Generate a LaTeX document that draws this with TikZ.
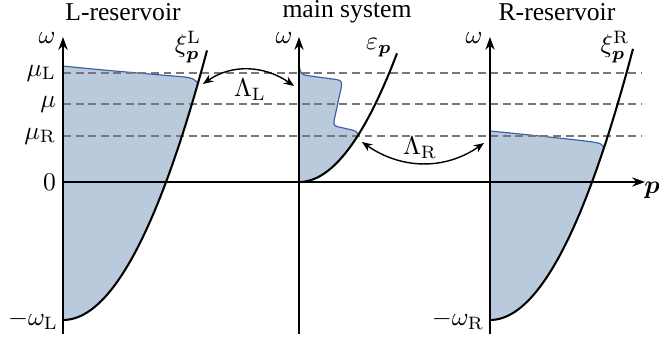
\documentclass[tikz,border=0pt]{standalone}
\usepackage{amsmath,amssymb,bm}
\usepackage[no-math]{fontspec}
\setmainfont{Liberation Serif}
\usepackage{tikz}
\usetikzlibrary{arrows.meta,positioning,calc}
\definecolor{occBlue}{HTML}{B9CADC}
\definecolor{edgeBlue}{HTML}{3A5FA8}
\definecolor{levelGray}{HTML}{777777}
\tikzset{
  axis/.style={-{Stealth[length=5pt,width=3.6pt]}, line width=0.5pt},
  band/.style={line width=0.8pt},
  occ/.style={fill=occBlue},
  edge/.style={draw=edgeBlue, line width=0.45pt},
  level/.style={draw=levelGray, line width=0.45pt, dash pattern=on 3.1pt off 1.8pt},
  coupling/.style={{Stealth[length=4pt,width=3.2pt]}-{Stealth[length=4pt,width=3.2pt]}, line width=0.55pt},
  lbl/.style={inner sep=1pt}
}

\begin{document}
\begin{tikzpicture}[x=0.39pt,y=-0.39pt]
\useasboundingbox (0,0) rectangle (659,342);

% occupied states
\fill[occ] (63,320) -- plot[domain=0:135,samples=40] ({63+\x},{320-0.0130*\x*\x})
  .. controls (194,79) and (192,78) .. (185,77) .. controls (150,74) and (100,70) .. (63,66) -- cycle;
\fill[occ] (299,182) -- plot[domain=0:59.5,samples=30] ({299+\x},{182-0.0134*\x*\x})
  .. controls (357,131.5) and (355,130.5) .. (352,130) -- (339,127)
  .. controls (335,126.5) and (333.5,125) .. (334,121) -- (341.5,86)
  .. controls (342,82) and (341,80) .. (336,79.5) -- (307,75.5)
  .. controls (302,75) and (300,73) .. (299.5,67) -- cycle;
\fill[occ] (490,320) -- plot[domain=0:114,samples=40] ({490+\x},{320-0.013264*\x*\x})
  .. controls (603,145) and (601,143.5) .. (596,142.5) .. controls (580,140) and (530,135) .. (490,131) -- cycle;

\draw[edge] (63,66) .. controls (100,70) and (150,74) .. (185,77) .. controls (192,78) and (194,79) .. (198,83);
\draw[edge] (299.5,67) .. controls (300,73) and (302,75) .. (307,75.5) -- (336,79.5)
  .. controls (341,80) and (342,82) .. (341.5,86) -- (334,121)
  .. controls (333.5,125) and (335,126.5) .. (339,127) -- (352,130)
  .. controls (355,130.5) and (357,131.5) .. (358.5,134.6);
\draw[edge] (490,131) .. controls (530,135) and (580,140) .. (596,142.5) .. controls (601,143.5) and (603,145) .. (604,147.6);

% chemical potentials
\foreach \lev in {73,104,136}
  \draw[level] (63,\lev) -- (641,\lev);

% axes
\draw[axis] (63,182) -- (645,182);
\draw[axis] (63,334) -- (63,37);
\draw[axis] (299,334) -- (299,37);
\draw[axis] (490,334) -- (490,37);

% dispersions
\draw[band] plot[domain=0:144,samples=50] ({63+\x},{320-0.0130*\x*\x});
\draw[band] plot[domain=0:98,samples=50] ({299+\x},{182-0.0134*\x*\x});
\draw[band] plot[domain=0:143,samples=50] ({490+\x},{320-0.013264*\x*\x});

% labels
\node (titleL) at (123,12) {L-reservoir};
\node (titleS) at (347,12) {main system};
\node (titleR) at (557,12) {R-reservoir};

\node[lbl] (omL) at (47,38) {$\omega$};
\node[lbl] (omS) at (284,38) {$\omega$};
\node[lbl] (omR) at (474,38) {$\omega$};

\node[lbl,anchor=east] (muL) at (59,73) {$\mu_{\mathrm{L}}$};
\node[lbl,anchor=east] (mu) at (59,104) {$\mu$};
\node[lbl,anchor=east] (muR) at (59,136) {$\mu_{\mathrm{R}}$};
\node[lbl,anchor=east] (zero) at (59,182) {$0$};
\node[lbl,anchor=east] (wL) at (61,320) {$-\omega_{\mathrm{L}}$};
\node[lbl,anchor=east] (wR) at (487,320) {$-\omega_{\mathrm{R}}$};

\node[lbl] (xiL) at (188,47) {$\xi_{\bm p}^{\mathrm{L}}$};
\node[lbl] (eps) at (379,48) {$\varepsilon_{\bm p}$};
\node[lbl] (xiR) at (615,47) {$\xi_{\bm p}^{\mathrm{R}}$};
\node[lbl] (pvec) at (652,190) {$\bm p$};

% tunnelling couplings
\coordinate (cL1) at (203,84);
\coordinate (cL2) at (294,86);
\coordinate (cR1) at (362,142);
\coordinate (cR2) at (484,143);
\draw[coupling] (cL1) to[out=35,in=145] (cL2);
\draw[coupling] (cR1) to[out=-35,in=-145] (cR2);
\node[lbl] (LamL) at (250,90) {$\Lambda_{\mathrm{L}}$};
\node[lbl] (LamR) at (420,148) {$\Lambda_{\mathrm{R}}$};

\end{tikzpicture}
\end{document}
